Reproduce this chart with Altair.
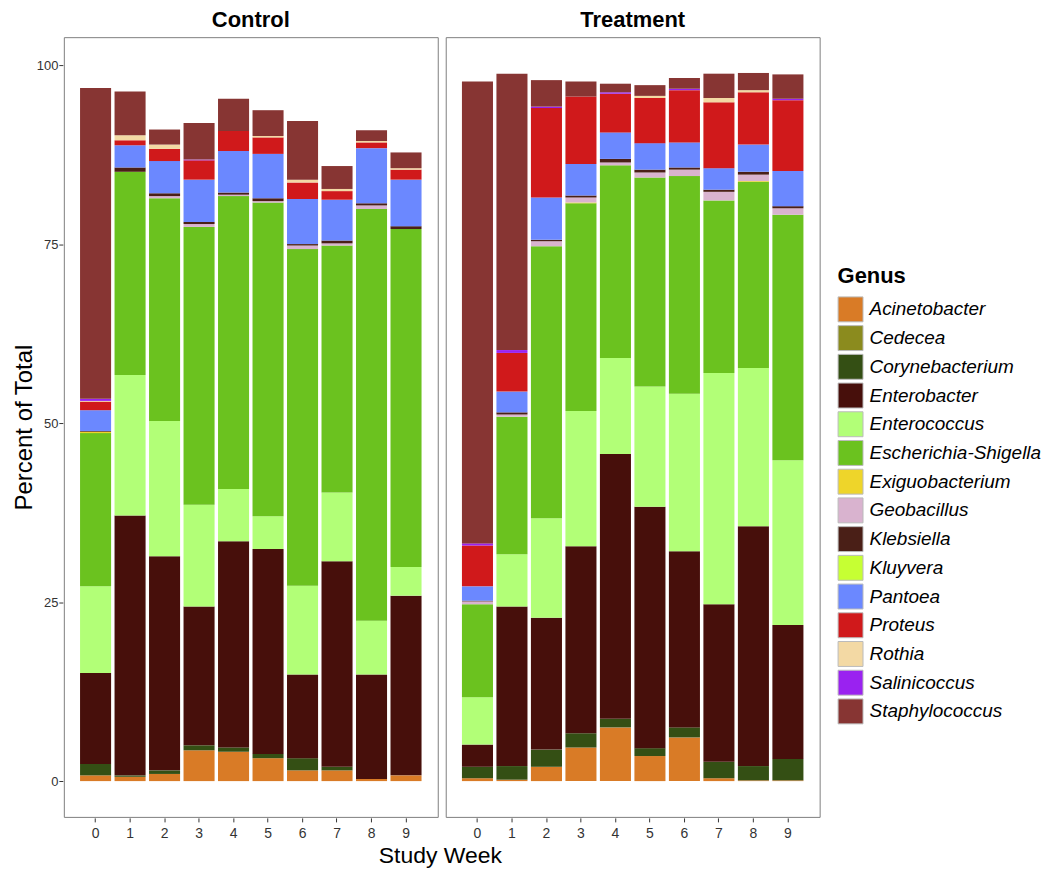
import altair as alt
import pandas as pd

weeks = list(range(10))
groups = ["Control", "Treatment"]
genera = ["Acinetobacter", "Cedecea", "Corynebacterium", "Enterobacter", "Enterococcus",
          "Escherichia-Shigella", "Exiguobacterium", "Geobacillus", "Klebsiella", "Kluyvera",
          "Pantoea", "Proteus", "Rothia", "Salinicoccus", "Staphylococcus"]
colors = ["#D97B26", "#8B8B1E", "#344F14", "#470F0B", "#B2FF77",
          "#6BC21F", "#EED52A", "#D9B3CF", "#4A1F17", "#C6FF33",
          "#6B88FF", "#D0191B", "#F3D9A4", "#9A22F0", "#873533"]

# Control, weeks 0-9
ctrl_acinetobacter = [0.8, 0.6, 1.0, 4.3, 4.1, 3.2, 1.5, 1.5, 0.3, 0.8]
ctrl_cedecea = [0.0, 0.0, 0.0, 0.0, 0.0, 0.0, 0.0, 0.0, 0.0, 0.0]
ctrl_corynebacterium = [1.6, 0.2, 0.5, 0.7, 0.6, 0.6, 1.7, 0.5, 0.0, 0.0]
ctrl_enterobacter = [12.7, 36.3, 29.9, 19.4, 28.8, 28.6, 11.7, 28.7, 14.6, 25.1]
ctrl_enterococcus = [12.1, 19.6, 18.9, 14.2, 7.3, 4.6, 12.4, 9.6, 7.5, 4.0]
ctrl_escherichia = [21.4, 28.4, 31.1, 38.8, 40.9, 43.8, 47.0, 34.5, 57.5, 47.2]
ctrl_exiguobacterium = [0.2, 0.0, 0.0, 0.0, 0.0, 0.0, 0.0, 0.0, 0.0, 0.0]
ctrl_geobacillus = [0.0, 0.0, 0.3, 0.4, 0.2, 0.2, 0.5, 0.3, 0.5, 0.0]
ctrl_klebsiella = [0.1, 0.6, 0.4, 0.3, 0.3, 0.4, 0.2, 0.4, 0.3, 0.4]
ctrl_kluyvera = [0.0, 0.0, 0.0, 0.0, 0.0, 0.0, 0.0, 0.0, 0.0, 0.0]
ctrl_pantoea = [2.9, 3.1, 4.5, 5.9, 5.8, 6.2, 6.3, 5.7, 7.7, 6.5]
ctrl_proteus = [1.2, 0.7, 1.7, 2.7, 2.8, 2.3, 2.3, 1.2, 0.8, 1.4]
ctrl_rothia = [0.1, 0.7, 0.6, 0.0, 0.0, 0.2, 0.4, 0.3, 0.2, 0.2]
ctrl_salinicoccus = [0.3, 0.0, 0.0, 0.1, 0.0, 0.0, 0.0, 0.0, 0.0, 0.0]
ctrl_staphylococcus = [43.4, 6.1, 2.1, 5.1, 4.5, 3.6, 8.2, 3.2, 1.5, 2.2]

# Treatment, weeks 0-9
trt_acinetobacter = [0.4, 0.2, 2.0, 4.7, 7.5, 3.5, 6.1, 0.4, 0.1, 0.1]
trt_cedecea = [0.0, 0.0, 0.0, 0.0, 0.0, 0.0, 0.0, 0.0, 0.0, 0.0]
trt_corynebacterium = [1.6, 1.9, 2.4, 2.0, 1.2, 1.1, 1.4, 2.3, 2.0, 3.0]
trt_enterobacter = [3.1, 22.3, 18.4, 26.1, 37.0, 33.7, 24.6, 22.0, 33.5, 18.7]
trt_enterococcus = [6.6, 7.3, 13.9, 18.9, 13.4, 16.8, 22.0, 32.3, 22.1, 23.0]
trt_escherichia = [13.0, 19.2, 38.0, 29.0, 26.9, 29.2, 30.4, 24.1, 26.0, 34.3]
trt_exiguobacterium = [0.0, 0.0, 0.0, 0.1, 0.0, 0.0, 0.0, 0.0, 0.1, 0.0]
trt_geobacillus = [0.4, 0.3, 0.7, 0.7, 0.4, 0.7, 0.9, 1.2, 0.9, 0.9]
trt_klebsiella = [0.1, 0.3, 0.2, 0.3, 0.5, 0.4, 0.3, 0.3, 0.4, 0.3]
trt_kluyvera = [0.0, 0.0, 0.0, 0.0, 0.0, 0.0, 0.0, 0.0, 0.0, 0.0]
trt_pantoea = [2.0, 2.9, 5.9, 4.4, 3.7, 3.7, 3.5, 3.0, 3.8, 4.9]
trt_proteus = [5.7, 5.4, 12.5, 9.4, 5.4, 6.3, 7.3, 9.2, 7.3, 9.9]
trt_rothia = [0.0, 0.0, 0.0, 0.0, 0.0, 0.3, 0.0, 0.6, 0.3, 0.0]
trt_salinicoccus = [0.3, 0.4, 0.2, 0.0, 0.2, 0.0, 0.2, 0.0, 0.0, 0.2]
trt_staphylococcus = [64.5, 38.6, 3.7, 2.1, 1.2, 1.5, 1.5, 3.4, 2.4, 3.4]

ctrl_series = [ctrl_acinetobacter, ctrl_cedecea, ctrl_corynebacterium, ctrl_enterobacter,
               ctrl_enterococcus, ctrl_escherichia, ctrl_exiguobacterium, ctrl_geobacillus,
               ctrl_klebsiella, ctrl_kluyvera, ctrl_pantoea, ctrl_proteus, ctrl_rothia,
               ctrl_salinicoccus, ctrl_staphylococcus]
trt_series = [trt_acinetobacter, trt_cedecea, trt_corynebacterium, trt_enterobacter,
              trt_enterococcus, trt_escherichia, trt_exiguobacterium, trt_geobacillus,
              trt_klebsiella, trt_kluyvera, trt_pantoea, trt_proteus, trt_rothia,
              trt_salinicoccus, trt_staphylococcus]

rows = []
for group, series in zip(groups, [ctrl_series, trt_series]):
    for gi, (genus, vals) in enumerate(zip(genera, series)):
        for w, v in zip(weeks, vals):
            rows.append({"group": group, "week": w, "genus": genus, "gorder": gi, "value": v})
df = pd.DataFrame(rows)

FONT = "Liberation Sans"

base = alt.Chart(df).mark_bar().encode(
    x=alt.X("week:O", title=None,
            scale=alt.Scale(paddingInner=0.1, paddingOuter=0.47),
            axis=alt.Axis(labelAngle=0, domain=False, tickSize=4, tickColor="#333333",
                          labelColor="#333333", labelFontSize=14, labelPadding=5, labelFont=FONT)),
    y=alt.Y("value:Q", title="Percent of Total", stack="zero",
            scale=alt.Scale(domain=[-5, 103.9], nice=False, zero=False),
            axis=alt.Axis(values=[0, 25, 50, 75, 100], grid=False, domain=False, tickSize=4,
                          tickColor="#333333", labelColor="#333333", labelFontSize=13,
                          labelPadding=1, titleFontSize=24, titleFontWeight="normal",
                          titleColor="black", titlePadding=0, titleFont=FONT, labelFont=FONT)),
    color=alt.Color("genus:N", scale=alt.Scale(domain=genera, range=colors),
                    legend=alt.Legend(title="Genus", orient="none", legendX=776, legendY=230,
                                      symbolType="square", symbolSize=625,
                                      symbolStrokeColor="#BBBBBB", symbolStrokeWidth=1,
                                      symbolOpacity=1, rowPadding=-1.2,
                                      labelFontSize=19, labelFontStyle="italic", labelFont=FONT,
                                      labelColor="black", labelOffset=6,
                                      titleFontSize=22, titleFont=FONT, titleFontWeight="bold",
                                      titleColor="black", titlePadding=8, labelLimit=300)),
    order=alt.Order("gorder:Q", sort="ascending"),
).properties(width=375, height=782)

chart = base.facet(
    column=alt.Column("group:N", title=None, sort=groups,
                      header=alt.Header(labelFontSize=22, labelFontWeight="bold", labelFont=FONT,
                                        labelColor="black", labelPadding=4)),
    spacing=6,
).properties(
    title=alt.TitleParams("Study Week", orient="bottom", anchor="middle", frame="bounds",
                          dx=-87, fontSize=23, fontWeight="normal", font=FONT, color="black",
                          offset=4),
    padding={"left": 4, "top": 0, "right": 0, "bottom": 0},
).configure_view(stroke="#808080", strokeWidth=1)

chart.save("out.html", embed_options={"renderer": "svg", "actions": False})
